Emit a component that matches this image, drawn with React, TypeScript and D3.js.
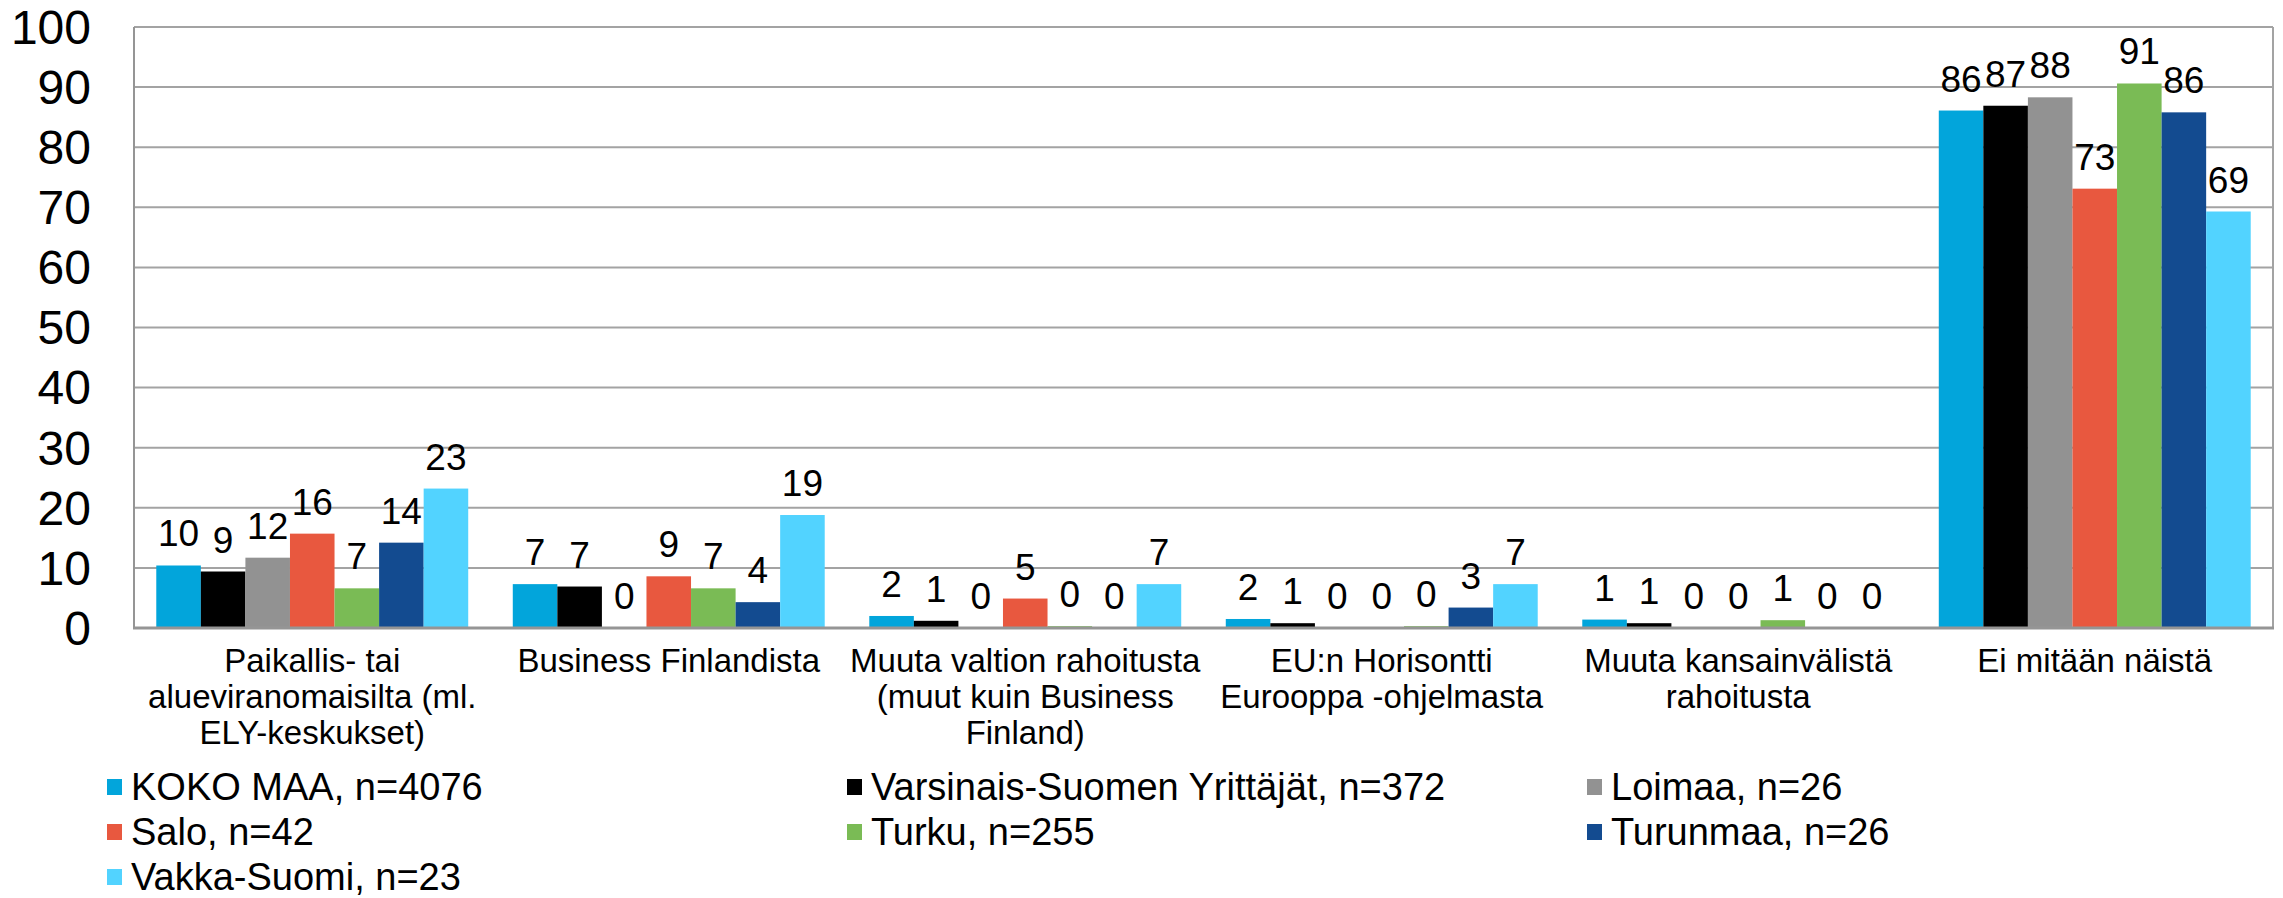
import { useEffect, useRef } from "react";
import * as d3 from "d3";

// category labels, already broken into lines as in the original
const categories = [
  ["Paikallis- tai", "alueviranomaisilta (ml.", "ELY-keskukset)"],
  ["Business Finlandista"],
  ["Muuta valtion rahoitusta", "(muut kuin Business", "Finland)"],
  ["EU:n Horisontti", "Eurooppa -ohjelmasta"],
  ["Muuta kansainvälistä", "rahoitusta"],
  ["Ei mitään näistä"],
];

const seriesNames = [
  "KOKO MAA, n=4076",
  "Varsinais-Suomen Yrittäjät, n=372",
  "Loimaa, n=26",
  "Salo, n=42",
  "Turku, n=255",
  "Turunmaa, n=26",
  "Vakka-Suomi, n=23",
];

const seriesColors = ["#02A5DB", "#000000", "#929292", "#E8583F", "#7ABB55", "#134B90", "#52D3FF"];

// one array per series, one value per category
const kokoMaa = [10.4, 7.3, 2.0, 1.5, 1.4, 86.1];
const varsinaisSuomi = [9.4, 6.9, 1.2, 0.8, 0.8, 86.9];
const loimaa = [11.7, 0, 0, 0, 0, 88.3];
const salo = [15.7, 8.6, 4.9, 0, 0, 73.1];
const turku = [6.6, 6.6, 0.3, 0.3, 1.3, 90.6];
const turunmaa = [14.2, 4.3, 0, 3.4, 0, 85.8];
const vakkaSuomi = [23.2, 18.8, 7.3, 7.3, 0, 69.3];

const seriesValues = [kokoMaa, varsinaisSuomi, loimaa, salo, turku, turunmaa, vakkaSuomi];

const yTicks = [0, 10, 20, 30, 40, 50, 60, 70, 80, 90, 100];

const W = 2283;
const H = 898;
const FONT = "'Liberation Sans', Arial, sans-serif";

export default function App() {
  const ref = useRef<SVGSVGElement | null>(null);

  useEffect(() => {
    if (!ref.current) return;
    const svg = d3.select(ref.current);
    svg.selectAll("*").remove();

    const left = 134;
    const right = 2273;
    const top = 27;
    const bottom = 628;

    const x0 = d3.scaleBand<number>().domain(d3.range(categories.length)).range([left, right]);
    const x1 = d3
      .scaleBand<number>()
      .domain(d3.range(seriesNames.length))
      .range([0, x0.bandwidth()])
      .paddingInner(0)
      .paddingOuter(0.5);
    const y = d3.scaleLinear().domain([0, 100]).range([bottom, top]);

    // grid
    svg
      .append("g")
      .selectAll("line")
      .data(yTicks.filter((t) => t > 0))
      .join("line")
      .attr("x1", left)
      .attr("x2", right)
      .attr("y1", (d) => y(d))
      .attr("y2", (d) => y(d))
      .attr("stroke", "#A3A3A3")
      .attr("stroke-width", 2);

    // right border + left axis
    svg.append("line").attr("x1", right).attr("x2", right).attr("y1", top).attr("y2", bottom).attr("stroke", "#A3A3A3").attr("stroke-width", 2);
    svg.append("line").attr("x1", left).attr("x2", left).attr("y1", top).attr("y2", bottom).attr("stroke", "#959595").attr("stroke-width", 2);

    // y labels
    svg
      .append("g")
      .selectAll("text")
      .data(yTicks)
      .join("text")
      .attr("x", 91)
      .attr("y", (d) => y(d))
      .attr("dy", "0.35em")
      .attr("text-anchor", "end")
      .attr("font-family", FONT)
      .attr("font-size", 48)
      .attr("fill", "#000")
      .text((d) => d);

    // bars
    const groups = svg
      .append("g")
      .selectAll("g")
      .data(categories.map((_, i) => i))
      .join("g")
      .attr("transform", (i) => `translate(${x0(i)},0)`);

    groups
      .selectAll("rect")
      .data((i) => seriesValues.map((vals, s) => ({ s, v: vals[i] })))
      .join("rect")
      .attr("x", (d) => x1(d.s)!)
      .attr("width", x1.bandwidth())
      .attr("y", (d) => y(d.v))
      .attr("height", (d) => bottom - y(d.v))
      .attr("fill", (d) => seriesColors[d.s]);

    groups
      .selectAll("text")
      .data((i) => seriesValues.map((vals, s) => ({ s, v: vals[i] })))
      .join("text")
      .attr("x", (d) => x1(d.s)! + x1.bandwidth() / 2)
      .attr("y", (d) => y(d.v) - 19)
      .attr("text-anchor", "middle")
      .attr("font-family", FONT)
      .attr("font-size", 37)
      .attr("fill", "#000")
      .text((d) => d3.format(".0f")(d.v));

    // bottom axis
    svg.append("line").attr("x1", left - 1).attr("x2", right + 1).attr("y1", bottom).attr("y2", bottom).attr("stroke", "#959595").attr("stroke-width", 3);

    // category labels
    const cat = svg
      .append("g")
      .selectAll("text")
      .data(categories)
      .join("text")
      .attr("x", (_, i) => x0(i)! + x0.bandwidth() / 2)
      .attr("y", 672)
      .attr("text-anchor", "middle")
      .attr("font-family", FONT)
      .attr("font-size", 33)
      .attr("fill", "#000");
    cat
      .selectAll("tspan")
      .data((d) => d)
      .join("tspan")
      .attr("x", function () {
        return (this.parentNode as SVGTextElement).getAttribute("x");
      })
      .attr("dy", (_, j) => (j === 0 ? 0 : 36))
      .text((d) => d);

    // legend, 3 columns
    const legend = svg
      .append("g")
      .selectAll("g")
      .data(seriesNames.map((name, i) => ({ name, i })))
      .join("g")
      .attr("transform", (d) => `translate(${107 + (d.i % 3) * 740},${787 + Math.floor(d.i / 3) * 45})`);
    legend
      .append("rect")
      .attr("x", 0)
      .attr("y", -8)
      .attr("width", 15)
      .attr("height", 16)
      .attr("fill", (d) => seriesColors[d.i]);
    legend
      .append("text")
      .attr("x", 24)
      .attr("y", 0)
      .attr("dy", "0.35em")
      .attr("font-family", FONT)
      .attr("font-size", 38)
      .attr("fill", "#000")
      .text((d) => d.name);
  }, []);

  return (
    <svg
      ref={ref}
      width={W}
      height={H}
      style={{ position: "absolute", left: 0, top: 0, background: "#fff" }}
    ></svg>
  );
}
